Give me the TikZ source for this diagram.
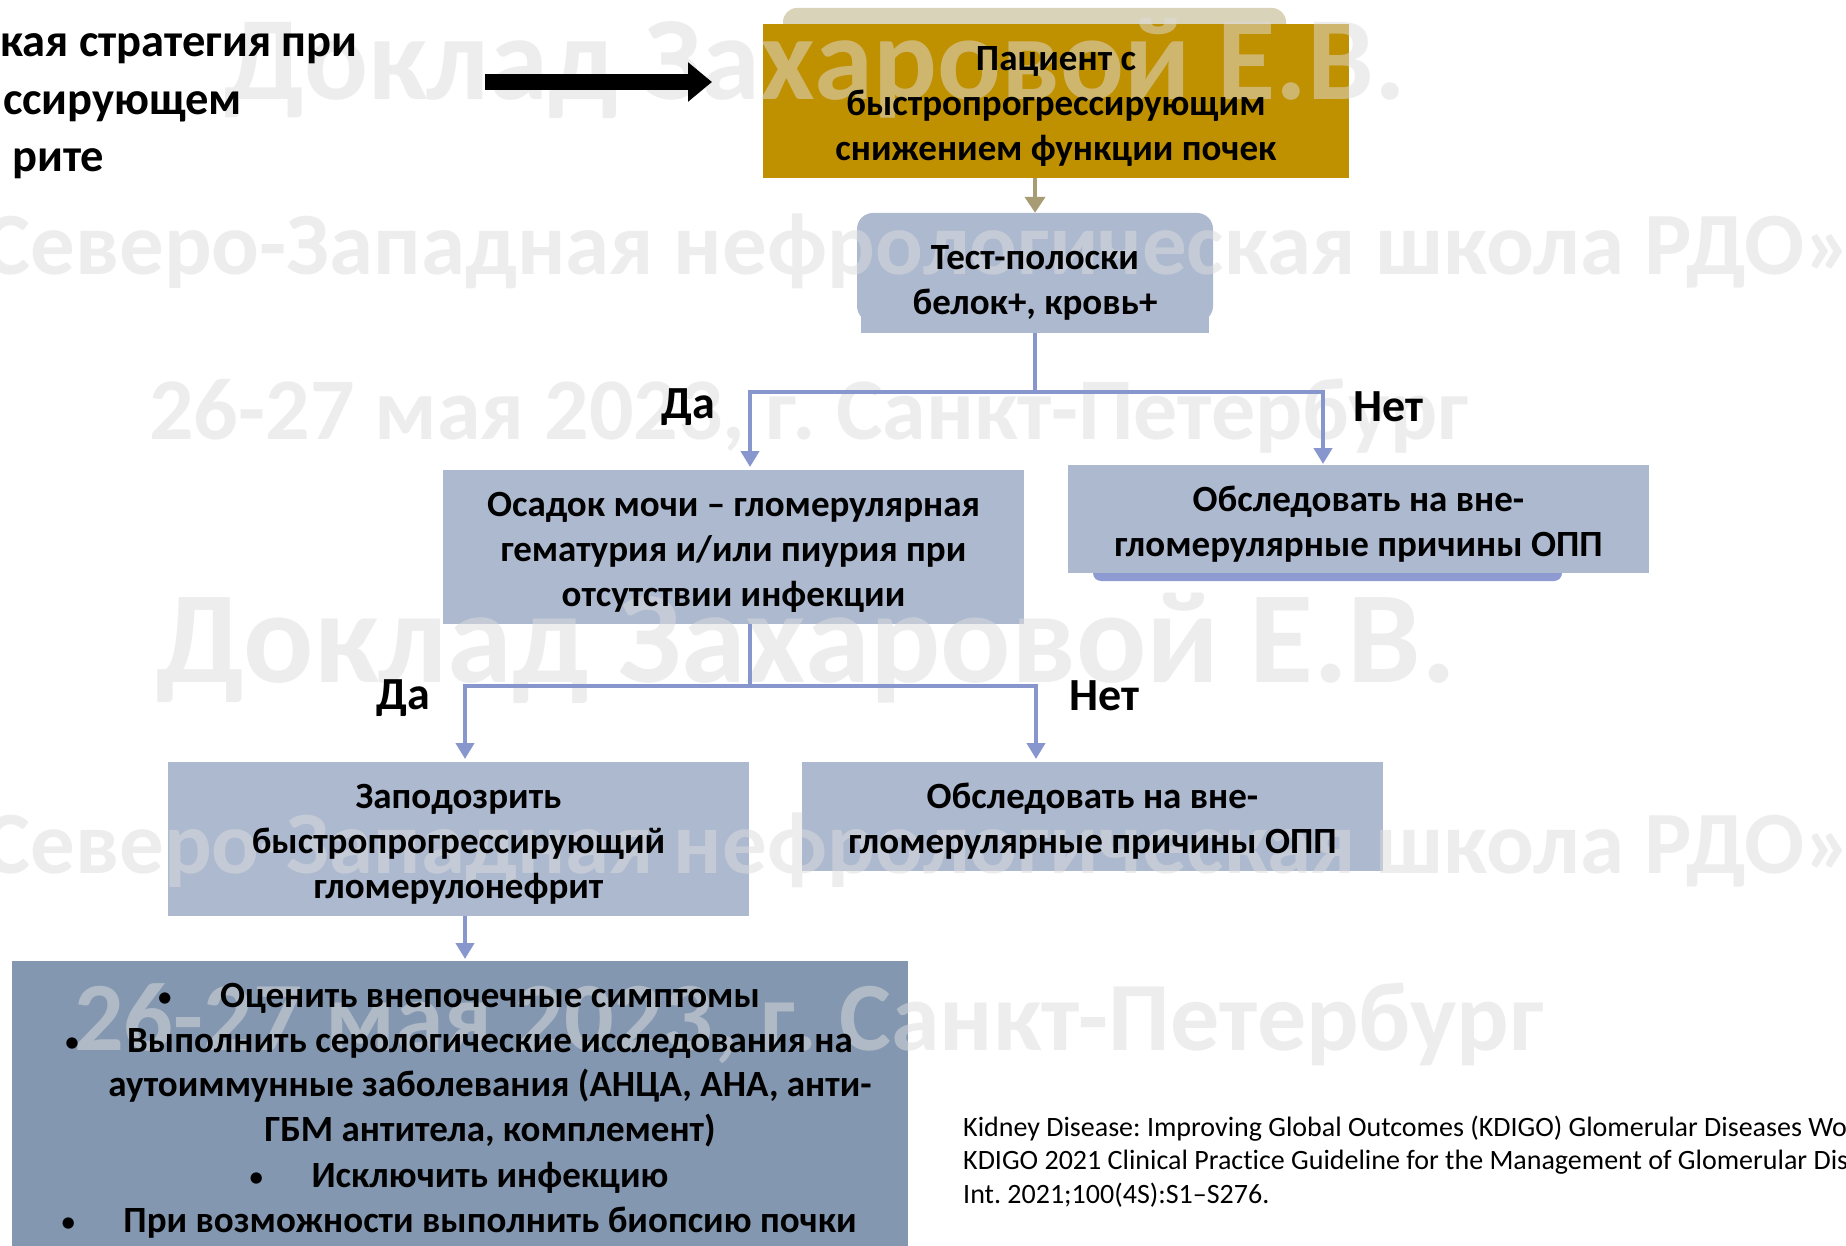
\documentclass[tikz,border=0pt]{standalone}
\usepackage{fontspec}
\setmainfont{Carlito}[Ligatures={NoCommon}]
\usetikzlibrary{arrows.meta}
\frenchspacing
\definecolor{gold}{RGB}{191,144,0}
\definecolor{beige}{RGB}{217,211,186}
\definecolor{boxblue}{RGB}{173,185,207}
\definecolor{darkbox}{RGB}{132,151,176}
\definecolor{connc}{RGB}{135,150,204}
\definecolor{tanc}{RGB}{168,156,116}
\definecolor{stripc}{RGB}{142,155,210}
\definecolor{wm}{RGB}{221,221,221}
\begin{document}
\begin{tikzpicture}[x=1pt,y=-1pt,
  boxtext/.style={font=\fontsize{37}{45}\selectfont\bfseries, align=center, inner sep=0pt},
  shapebox/.style={inner sep=0pt, draw=none},
  connline/.style={draw=connc, line width=4pt},
  conn/.style={draw=connc, line width=4pt, -{Triangle[width=18pt,length=16pt]}},
  lbl/.style={font=\fontsize{46}{52}\selectfont\bfseries, inner sep=0pt},
  titletext/.style={font=\fontsize{46.5}{58}\selectfont\bfseries, inner sep=0pt, anchor=base west},
  bultext/.style={font=\fontsize{37}{45}\selectfont\bfseries, inner sep=0pt, anchor=base},
  bul/.style={font=\fontsize{32}{36}\selectfont, inner sep=0pt, anchor=base},
  reftext/.style={font=\fontsize{28}{33}\selectfont\frenchspacing, inner sep=0pt, anchor=base west},
  wmark/.style={font=\bfseries, text=wm, opacity=0.5, inner sep=0pt},
]
\fill[white] (0,0) rectangle (1846,1246);
\useasboundingbox (0,0) rectangle (1846,1246);

% ---------- box shapes ----------
\fill[beige, rounded corners=14pt] (783,8) rectangle (1286,60);
\node[shapebox, fill=gold, minimum width=586pt, minimum height=154pt] (p) at (1056,101) {};

\fill[boxblue, rounded corners=16pt] (857,213) rectangle (1213,322);
\fill[boxblue] (861,290) rectangle (1209,333);
\node[shapebox, minimum width=356pt, minimum height=120pt] (t) at (1035,273) {};

\fill[stripc, rounded corners=8pt] (1093,550) rectangle (1562,581);
\node[shapebox, fill=boxblue, minimum width=581pt, minimum height=154pt] (o) at (733.5,547) {};
\node[shapebox, fill=boxblue, minimum width=581pt, minimum height=108pt] (r1) at (1358.5,519) {};

\node[shapebox, fill=boxblue, minimum width=581pt, minimum height=154pt] (z) at (458.5,839) {};
\node[shapebox, fill=boxblue, minimum width=581pt, minimum height=109pt] (r2) at (1092.5,816.5) {};

\node[shapebox, fill=darkbox, minimum width=896pt, minimum height=290pt, anchor=north west] (b) at (12,961) {};

% ---------- watermarks ----------
\node[wmark, font=\fontsize{119}{120}\selectfont\bfseries] (w1) at (815,68) {Доклад Захаровой Е.В.};
\node[wmark, font=\fontsize{89}{90}\selectfont\bfseries] (w2) at (918,251) {Северо-Западная нефрологическая школа РДО»};
\node[wmark, font=\fontsize{88}{90}\selectfont\bfseries] (w3) at (809,416) {26-27 мая 2023, г. Санкт-Петербург};
\node[wmark, font=\fontsize{131}{132}\selectfont\bfseries] (w4) at (806,648) {Доклад Захаровой Е.В.};
\node[wmark, font=\fontsize{89}{90}\selectfont\bfseries] (w5) at (918,850) {Северо-Западная нефрологическая школа РДО»};
\node[wmark, font=\fontsize{98}{100}\selectfont\bfseries] (w6) at (809,1024) {26-27 мая 2023, г. Санкт-Петербург};

% ---------- title fragments and black arrow ----------
\node[titletext] (ti1) at (0,57) {кая стратегия при};
\node[titletext] (ti2) at (3,115) {ссирующем};
\node[titletext] (ti3) at (12,172) {рите};
\coordinate (as) at (485,82);
\coordinate (ae) at (712,82);
\draw[line width=16pt, -{Triangle[width=38pt,length=24pt]}] (as) -- (ae);

% ---------- connectors ----------
\draw[tanc, line width=4pt, -{Triangle[width=20pt,length=16pt]}] (p.south -| t.north) -- (t.north);

\coordinate (j1) at (1035,392);
\coordinate (oa) at (750,467);
\coordinate (ra) at (1323,464);
\draw[connline] (t.south) -- (j1);
\draw[conn] (j1) -| (oa);
\draw[conn] (j1) -| (ra);

\coordinate (j2) at (750,686);
\coordinate (za) at (465,759);
\coordinate (r2a) at (1036,759);
\draw[connline] (o.south -| j2) -- (j2);
\draw[conn] (j2) -| (za);
\draw[conn] (j2) -| (r2a);

\coordinate (ba) at (465,959);
\draw[conn] (z.south -| ba) -- (ba);

% ---------- texts ----------
\node[boxtext] (pt) at ([yshift=-5pt]p.center)
  {Пациент с\\быстропрогрессирующим\\снижением функции почек};
\node[boxtext] (tt) at (1035,283) {Тест-полоски\\белок+, кровь+};
\node[boxtext] (ot) at ([yshift=-5pt]o.center)
  {Осадок мочи – гломерулярная\\гематурия и/или пиурия при\\отсутствии инфекции};
\node[boxtext] (r1t) at ([yshift=-5pt]r1.center)
  {Обследовать на вне-\\гломерулярные причины ОПП};
\node[boxtext] (zt) at ([yshift=-5pt]z.center)
  {Заподозрить\\быстропрогрессирующий\\гломерулонефрит};
\node[boxtext] (r2t) at ([yshift=-5pt]r2.center)
  {Обследовать на вне-\\гломерулярные причины ОПП};

\node[lbl] (da1) at (688,407) {Да};
\node[lbl] (net1) at (1388,407) {Нет};
\node[lbl] (da2) at (403,698) {Да};
\node[lbl] (net2) at (1104,696) {Нет};

\node[bultext] (l1) at (490,1007) {Оценить внепочечные симптомы};
\node[bultext] (l2) at (490,1052) {Выполнить серологические исследования на};
\node[bultext] (l3) at (490,1096) {аутоиммунные заболевания (АНЦА, АНА, анти-};
\node[bultext] (l4) at (490,1141) {ГБМ антитела, комплемент)};
\node[bultext] (l5) at (490,1187) {Исключить инфекцию};
\node[bultext] (l6) at (490,1232) {При возможности выполнить биопсию почки};
\node[bul] (b1) at ([xshift=-55pt]l1.base west) {•};
\node[bul] (b2) at ([xshift=-55pt]l2.base west) {•};
\node[bul] (b5) at ([xshift=-55pt]l5.base west) {•};
\node[bul] (b6) at ([xshift=-55pt]l6.base west) {•};

\node[reftext] (ref1) at (963,1136) {Kidney Disease: Improving Global Outcomes (KDIGO) Glomerular Diseases Wo};
\node[reftext] (ref2) at (963,1169) {KDIGO 2021 Clinical Practice Guideline for the Management of Glomerular Dis};
\node[reftext] (ref3) at (963,1203) {Int. 2021;100(4S):S1–S276.};
\end{tikzpicture}
\end{document}
